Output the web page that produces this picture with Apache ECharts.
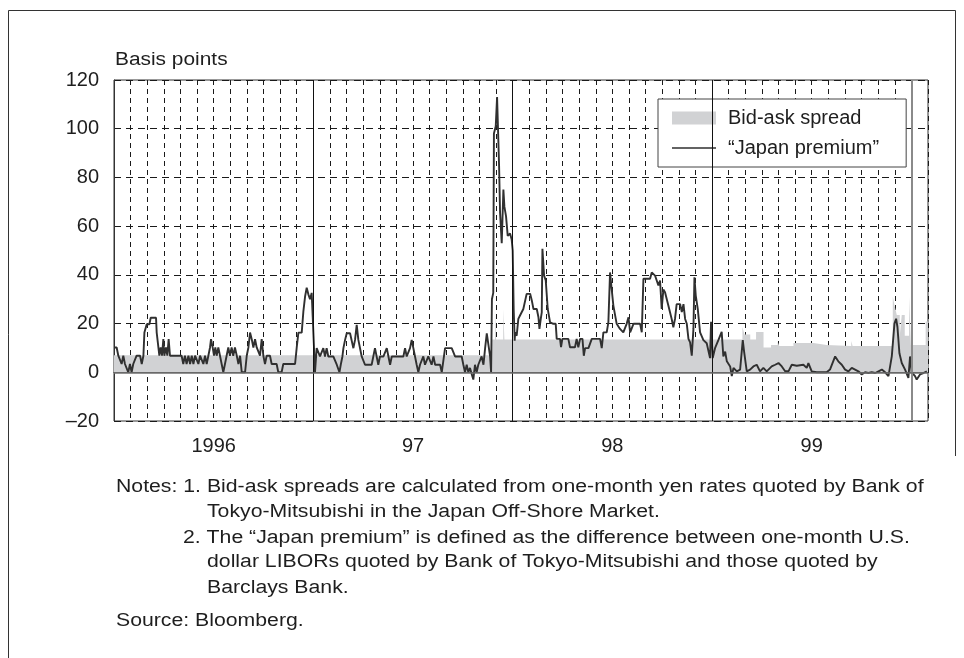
<!DOCTYPE html>
<html><head><meta charset="utf-8">
<script src="https://cdn.jsdelivr.net/npm/echarts@6/dist/echarts.min.js"></script>
<style>html,body{margin:0;padding:0;background:#fff}#c{width:964px;height:658px}</style>
</head><body><div id="c"></div>
<script>
// x values are months since January 1996
const yearLabels = ['1996', '97', '98', '99'];
const yearLabelMonths = [6, 18, 30, 42];
const yearBoundaryMonths = [12, 24, 36];
const yTickValues = [-20, 0, 20, 40, 60, 80, 100, 120];
const yTickLabels = ['–20', '0', '20', '40', '60', '80', '100', '120'];

// "Japan premium" (basis points)
const premium = [
[0,10.2],[0.16,10.2],[0.26,6.8],[0.36,6.8],[0.46,3.4],[0.56,6.8],[0.66,3.4],[0.76,3.4],[0.86,0],[0.96,3.4],
[1.06,0],[1.16,3.4],[1.26,3.4],[1.36,6.8],[1.57,6.8],[1.67,3.4],[1.77,6.8],[1.83,16.3],[1.93,16.3],[1.97,19.7],
[2.13,19.7],[2.21,22.4],[2.37,22.4],[2.53,22.4],[2.57,16.3],[2.67,16.3],[2.73,6.8],[2.81,10.2],[2.89,6.8],[2.97,13.6],
[3.03,6.8],[3.13,10.2],[3.21,6.8],[3.29,13.6],[3.37,6.8],[3.77,6.8],[4.07,6.8],[4.17,3.4],[4.27,6.8],[4.37,3.4],
[4.48,6.8],[4.58,3.4],[4.68,6.8],[4.78,3.4],[4.88,6.8],[4.98,6.8],[5.08,3.4],[5.18,6.8],[5.38,3.4],[5.48,6.8],
[5.58,3.4],[5.68,6.8],[5.78,10.2],[5.84,13.6],[5.94,10.2],[6.02,6.8],[6.1,10.2],[6.18,6.8],[6.28,10.2],[6.38,6.8],
[6.48,3.4],[6.58,0],[6.68,3.4],[6.78,6.8],[6.88,10.2],[6.98,6.8],[7.08,10.2],[7.18,6.8],[7.28,10.2],[7.39,6.8],
[7.49,3.4],[7.59,6.8],[7.69,0],[7.89,0],[7.99,6.8],[8.09,10.2],[8.19,16.3],[8.29,13.6],[8.39,10.2],[8.49,13.6],
[8.59,10.2],[8.69,10.2],[8.79,6.8],[8.89,13.6],[8.99,6.8],[9.09,3.4],[9.19,6.8],[9.39,6.8],[9.49,3.4],[9.79,3.4],
[9.89,0],[10.09,0],[10.19,3.4],[10.6,3.4],[10.9,3.4],[11.0,10.2],[11.1,16.3],[11.3,16.3],[11.4,25],[11.5,31],
[11.6,34.7],[11.7,32],[11.8,30],[11.9,32.6],[11.96,23],[12.04,10],[12.1,0],
[12.2,9.9],[12.3,9.9],[12.4,6.5],[12.6,9.9],[12.7,6.5],[12.8,9.9],[12.9,6.5],[13.0,6.5],[13.2,6.5],[13.31,6.5],
[13.41,3.1],[13.57,0],[13.65,3.1],[13.75,6.5],[13.81,9.9],[13.91,13.3],[14.01,16],[14.21,16],[14.31,16],[14.41,9.9],
[14.51,13.3],[14.61,19.5],[14.71,13.3],[14.81,13.3],[14.91,6.5],[15.01,6.5],[15.11,3.1],[15.31,3.1],[15.51,3.1],[15.61,6.5],
[15.71,9.9],[15.81,6.5],[15.91,3.1],[16.01,6.5],[16.22,6.5],[16.42,9.9],[16.52,6.5],[16.62,3.1],[16.72,6.5],[16.92,6.5],
[17.12,6.5],[17.42,6.5],[17.52,9.9],[17.62,6.5],[17.82,9.9],[17.92,13.3],[18.02,9.9],[18.12,6.5],[18.22,3.1],[18.32,0],
[18.42,3.1],[18.62,6.5],[18.72,3.1],[18.92,6.5],[19.12,3.1],[19.23,6.5],[19.33,3.1],[19.43,3.1],[19.63,3.1],[19.73,0],
[19.93,9.9],[20.13,9.9],[20.33,9.9],[20.43,9.9],[20.53,6.5],[20.73,6.5],[20.93,6.5],[21.03,3.1],[21.13,0],[21.23,3.1],
[21.33,0],[21.43,1.8],[21.57,-1.6],[21.63,-3],[21.73,3.1],[21.83,0],[21.93,3.1],[22.03,3.1],[22.13,6.5],[22.24,3.1],
[22.34,9.9],[22.44,16],[22.54,16],[22.64,6.5],[22.7,0],[22.75,30],[22.83,32.6],[22.87,98],[22.98,101],[23.06,113],
[23.18,85],[23.24,65.5],[23.34,53],[23.44,75],[23.5,68],[23.6,64],[23.7,56],[23.84,57],[23.94,54.5],[24.0,50],
[24.06,25.8],[24.12,13],[24.14,16.4],[24.24,15],[24.34,21.9],[24.44,23.3],[24.64,26],[24.74,26],[24.84,32.2],[25.05,32.2],
[25.15,29.5],[25.25,26],[25.45,26],[25.55,22.6],[25.61,17.8],[25.69,21.9],[25.75,24.6],[25.79,50.7],[25.89,39.7],[25.99,37.7],
[26.11,26],[26.25,20.5],[26.45,19.9],[26.59,19.9],[26.65,13.7],[26.85,13.7],[26.91,10.3],[26.99,13.7],[27.15,13.7],[27.35,13.7],
[27.45,10.3],[27.75,10.3],[27.85,13.7],[27.95,10.3],[28.06,13.7],[28.2,13.7],[28.28,6.8],[28.36,9.9],[28.56,9.9],[28.76,13.7],
[28.96,13.7],[29.26,13.7],[29.36,9.9],[29.46,16.4],[29.66,16.4],[29.76,20.5],[29.86,41],[29.96,34],[30.06,27.4],[30.26,19.9],
[30.46,17.8],[30.66,16.4],[30.86,19.9],[30.97,22.6],[31.07,16.4],[31.27,19.9],[31.47,19.9],[31.67,19.9],[31.77,16.4],[31.87,38.4],
[32.07,38.4],[32.27,38.4],[32.37,41],[32.57,39.7],[32.67,37.7],[32.77,35.6],[32.87,37.7],[32.97,26],[33.07,34],[33.17,32.9],
[33.37,27.4],[33.57,21.9],[33.67,18.5],[33.77,21.9],[33.87,28],[34.08,28],[34.18,24.7],[34.28,28],[34.38,21.9],[34.48,19.9],
[34.58,13.7],[34.68,12.3],[34.78,6.8],[34.88,17.8],[34.94,39],[35.02,31.5],[35.14,26],[35.28,16.4],[35.48,13.2],[35.68,11.9],
[35.88,5.8],[35.94,20.7],[36.04,5.8],[36.18,9.9],[36.38,13.2],[36.58,16.6],[36.68,6.5],[36.79,8.5],[36.89,4.5],[37.09,2.4],
[37.19,-1.6],[37.29,1.8],[37.49,0.4],[37.69,1.1],[37.85,13.2],[37.93,8.5],[38.09,0.4],[38.29,1.1],[38.49,2.4],[38.69,3.1],
[38.89,0.4],[39.09,1.8],[39.29,0.4],[39.59,2.4],[39.8,3.1],[40.0,3.8],[40.2,2.4],[40.4,0.4],[40.6,0.4],[40.8,3.1],
[41.1,2.7],[41.5,3.1],[41.7,1.8],[41.8,3.8],[42.0,0.4],[42.3,0],[42.9,0],[43.1,1.1],[43.41,6.5],[43.6,4.5],
[43.81,3.1],[44.01,1.1],[44.21,0.4],[44.41,1.8],[44.61,1.1],[44.81,0.4],[45.01,-0.9],[45.21,0],[45.41,-0.3],[45.61,0],
[45.82,-0.3],[46.02,0.4],[46.22,1.1],[46.42,0],[46.62,-1.6],[46.82,6.5],[46.98,20],[47.08,22],[47.16,18.6],[47.28,7.8],
[47.42,3.8],[47.62,1.1],[47.82,-2.3],[47.92,6.5],[48.02,0],[48.22,-1.6],[48.32,-3],[48.52,-0.9],[48.72,-0.3],[48.93,0.4]
];

// Bid-ask spread (basis points), each value holds until the next month mark
const spread = [
[0,7],[22.74,13.5],[22.93,26],[23.0,13.5],[23.43,26],[23.5,13.5],[37.83,18.6],[37.95,15.5],[38.3,13.5],[38.65,16.5],
[39.1,10.2],[39.55,11.2],[39.95,12.6],[40.05,10.8],[40.9,12],[42.1,11.2],[42.9,10.8],[44.38,12.8],[44.46,10.8],[46.88,31],
[47.0,27],[47.12,23.5],[47.3,15],[47.42,23.5],[47.6,15],[47.86,31],[47.97,11.2],[48.86,20.8],[49,20.8]
];

const unitLabel = 'Basis points';
const noteLines = [
  {x: 116, y: 487, t: 'Notes: 1. Bid-ask spreads are calculated from one-month yen rates quoted by Bank of'},
  {x: 207, y: 512, t: 'Tokyo-Mitsubishi in the Japan Off-Shore Market.'},
  {x: 183, y: 538, t: '2. The “Japan premium” is defined as the difference between one-month U.S.'},
  {x: 207, y: 562, t: 'dollar LIBORs quoted by Bank of Tokyo-Mitsubishi and those quoted by'},
  {x: 207, y: 588, t: 'Barclays Bank.'},
  {x: 116, y: 621, t: 'Source: Bloomberg.'}
];

const FONT = '"Liberation Sans", Arial, Helvetica, sans-serif';
const TXT = '#1e1e1e';
// thin horizontal bar icon with invisible corner anchors to keep its box at 44x13
const LINE_ICON = 'path://M0,0L0.01,0L0.01,0.01Z M0,5.8L44,5.8L44,7.3L0,7.3Z M43.99,12.99L44,13L43.99,13Z';

const chart = echarts.init(document.getElementById('c'), null, {renderer: 'canvas'});

const graphics = [
  {type: 'line', shape: {x1: 8.5, y1: 10.5, x2: 955.5, y2: 10.5}, style: {stroke: '#333', lineWidth: 1}, silent: true},
  {type: 'line', shape: {x1: 8.5, y1: 10.5, x2: 8.5, y2: 658}, style: {stroke: '#333', lineWidth: 1}, silent: true},
  {type: 'line', shape: {x1: 955.5, y1: 10.5, x2: 955.5, y2: 456}, style: {stroke: '#333', lineWidth: 1}, silent: true},
  {type: 'text', x: 115, y: 60, scaleX: 1.16, style: {text: unitLabel, font: '18px ' + FONT, fill: TXT, verticalAlign: 'middle'}, silent: true}
];
noteLines.forEach(n => graphics.push({
  type: 'text', x: n.x, y: n.y, scaleX: 1.18,
  style: {text: n.t, font: '18px ' + FONT, fill: TXT, verticalAlign: 'middle'}, silent: true
}));

const markLineData = yearBoundaryMonths.map(m => ({xAxis: m, lineStyle: {color: '#111', width: 1, type: 'solid'}}));
markLineData.push({xAxis: 48, lineStyle: {color: '#8a8a8a', width: 2, type: 'solid'}});
markLineData.push({yAxis: 0, lineStyle: {color: '#6e6e6e', width: 1.5, type: 'solid'}});

chart.setOption({
  backgroundColor: '#fff',
  animation: false,
  textStyle: {fontFamily: FONT},
  grid: {left: 114, right: 36, top: 80, bottom: 237, show: true, borderColor: '#333', borderWidth: 1, backgroundColor: 'transparent', containLabel: false},
  legend: {
    orient: 'vertical', left: 658, top: 99,
    padding: [9, 27, 9, 14], itemGap: 10, itemWidth: 44, itemHeight: 13,
    backgroundColor: '#fff', borderColor: '#444', borderWidth: 1, borderRadius: 0,
    textStyle: {fontSize: 20, color: TXT, fontFamily: FONT, padding: [0, 0, 0, 7]},
    data: [{name: 'Bid-ask spread', icon: 'rect'}, {name: '“Japan premium”', icon: LINE_ICON}]
  },
  xAxis: {
    type: 'value', min: 0, max: 49, interval: 1,
    axisLine: {show: true, lineStyle: {color: '#333', width: 1}},
    axisTick: {show: false},
    axisLabel: {
      show: true, margin: 15, fontSize: 20, color: TXT, fontFamily: FONT,
      formatter: v => { const i = yearLabelMonths.indexOf(v); return i >= 0 ? yearLabels[i] : ''; }
    },
    splitLine: {show: true, lineStyle: {color: '#1a1a1a', width: 1, type: [5, 4]}}
  },
  yAxis: {
    type: 'value', min: -20, max: 120, interval: 20,
    axisLine: {show: true, lineStyle: {color: '#333', width: 1}},
    axisTick: {show: false},
    axisLabel: {
      margin: 15, fontSize: 20, color: TXT, fontFamily: FONT,
      formatter: v => { const i = yTickValues.indexOf(v); return i >= 0 ? yTickLabels[i] : ''; }
    },
    splitLine: {show: true, lineStyle: {color: '#1a1a1a', width: 1, type: [7, 5]}}
  },
  series: [
    {
      name: 'Bid-ask spread', type: 'line', step: 'end', data: spread, symbol: 'none',
      color: '#d1d2d4', itemStyle: {color: '#d1d2d4'},
      lineStyle: {width: 0, color: '#d1d2d4'},
      areaStyle: {color: '#d1d2d4', opacity: 1, origin: 0},
      z: 2, silent: true
    },
    {
      name: '“Japan premium”', type: 'line', data: premium, symbol: 'none',
      color: '#303030', itemStyle: {color: '#303030'},
      lineStyle: {width: 1.9, color: '#303030'},
      z: 3, silent: true,
      markLine: {silent: true, symbol: 'none', label: {show: false}, animation: false, data: markLineData}
    }
  ],
  graphic: graphics
});
</script>
</body></html>
